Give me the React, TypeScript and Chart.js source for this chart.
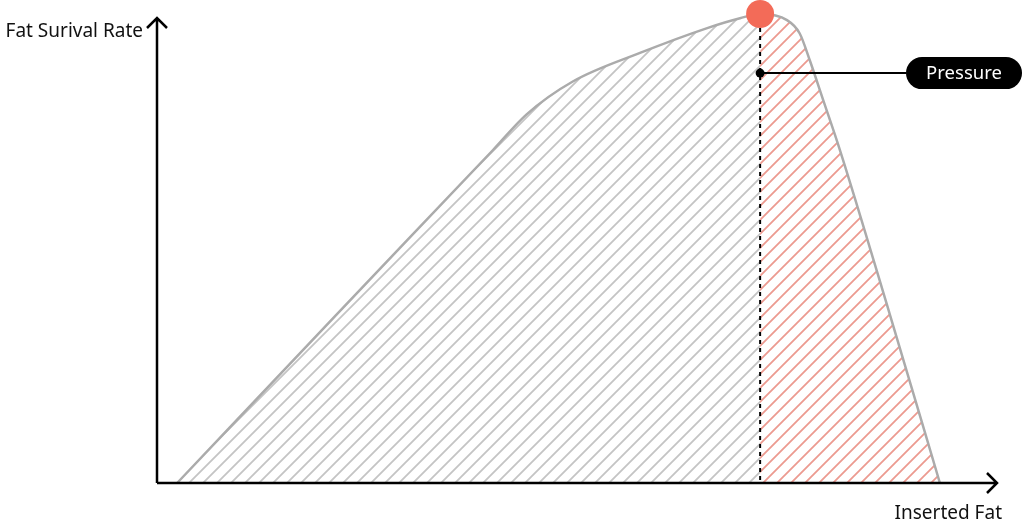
import React, { useEffect, useRef } from "react";
import { Chart, registerables } from "chart.js";

Chart.register(...registerables);

// curve (arbitrary 0-100 units on both axes)
const fatInserted = [2.4, 21.2, 40, 44, 49.5, 57.5, 65.5, 69.4, 71.8, 75, 76.5, 77.7, 79.3, 81.3, 87.3, 93.2];
const survivalRate = [0, 35.6, 71, 78.6, 85.6, 91.7, 97, 99.1, 100, 98.7, 95.9, 90.2, 81.7, 71, 35.6, 0];
const peakIndex = 8;
const pressureLevel = 87.4;

const xTitle = "Inserted Fat";
const yTitle = "Fat Surival Rate";
const pressureLabel = "Pressure";

const FONT = "'Noto Sans', sans-serif";

const hatch = (color: string) => {
  const size = 14;
  const c = document.createElement("canvas");
  c.width = size;
  c.height = size;
  const g = c.getContext("2d")!;
  g.strokeStyle = color;
  g.lineWidth = 1.8;
  g.beginPath();
  g.moveTo(-2, size + 2);
  g.lineTo(size + 2, -2);
  g.moveTo(-size / 2 - 2, size / 2 + 2);
  g.lineTo(size / 2 + 2, -size / 2 - 2);
  g.moveTo(size / 2 - 2, size * 1.5 + 2);
  g.lineTo(size * 1.5 + 2, size / 2 - 2);
  g.stroke();
  return g.createPattern(c, "repeat")!;
};

const overlay = {
  id: "overlay",
  afterDatasetsDraw(chart: any) {
    const { ctx, chartArea: a, scales } = chart;
    const x = scales.x;
    const y = scales.y;
    const px = x.getPixelForValue(fatInserted[peakIndex]);
    const py = y.getPixelForValue(survivalRate[peakIndex]);

    ctx.save();

    // dashed line under the peak
    ctx.strokeStyle = "#000";
    ctx.lineWidth = 2;
    ctx.setLineDash([4, 4]);
    ctx.beginPath();
    ctx.moveTo(px, py + 14);
    ctx.lineTo(px, a.bottom);
    ctx.stroke();
    ctx.setLineDash([]);

    // pressure callout
    const my = y.getPixelForValue(pressureLevel);
    const pillW = 116;
    const pillH = 32;
    const pillL = a.right + 25 - pillW;
    ctx.beginPath();
    ctx.moveTo(px, my);
    ctx.lineTo(pillL, my);
    ctx.stroke();
    ctx.fillStyle = "#000";
    ctx.beginPath();
    ctx.arc(px, my, 4.5, 0, Math.PI * 2);
    ctx.fill();
    ctx.beginPath();
    ctx.roundRect(pillL, my - pillH / 2, pillW, pillH, pillH / 2);
    ctx.fill();
    ctx.fillStyle = "#fff";
    ctx.font = `18.5px ${FONT}`;
    ctx.textAlign = "center";
    ctx.textBaseline = "middle";
    ctx.fillText(pressureLabel, pillL + pillW / 2, my + 1);

    // axes with arrows
    const top = a.top + 4;
    ctx.strokeStyle = "#000";
    ctx.lineWidth = 2.5;
    ctx.beginPath();
    ctx.moveTo(a.left, a.bottom);
    ctx.lineTo(a.left, top);
    ctx.moveTo(a.left - 10, top + 10);
    ctx.lineTo(a.left, top);
    ctx.lineTo(a.left + 10, top + 10);
    ctx.moveTo(a.left, a.bottom);
    ctx.lineTo(a.right, a.bottom);
    ctx.moveTo(a.right - 10, a.bottom - 10);
    ctx.lineTo(a.right, a.bottom);
    ctx.lineTo(a.right - 10, a.bottom + 10);
    ctx.stroke();

    ctx.fillStyle = "#111";
    ctx.font = `19px ${FONT}`;
    ctx.textAlign = "right";
    ctx.textBaseline = "alphabetic";
    ctx.fillText(yTitle, a.left - 14, 37);
    ctx.fillText(xTitle, a.right + 5, 519);

    ctx.restore();
  },
};

const App = () => {
  const canvasRef = useRef<HTMLCanvasElement>(null);
  const chartRef = useRef<Chart | null>(null);

  useEffect(() => {
    if (!canvasRef.current) return;

    chartRef.current?.destroy();

    const grey = hatch("#c4c4c4");
    const red = hatch("#ec9a90");

    chartRef.current = new Chart(canvasRef.current, {
      type: "line",
      data: {
        datasets: [
          {
            data: fatInserted.map((v, i) => ({ x: v, y: survivalRate[i] })),
            borderColor: "#ababab",
            borderWidth: 2.5,
            fill: "origin",
            backgroundColor: grey,
            segment: {
              backgroundColor: (c: any) => (c.p0DataIndex >= peakIndex ? red : grey),
            },
            cubicInterpolationMode: "monotone",
            pointRadius: (c: any) => (c.dataIndex === peakIndex ? 14 : 0),
            pointHoverRadius: (c: any) => (c.dataIndex === peakIndex ? 14 : 0),
            pointBackgroundColor: "#f36b58",
            pointBorderColor: "#f36b58",
            pointBorderWidth: 0,
            clip: false as any,
          },
        ],
      },
      options: {
        animation: false,
        responsive: true,
        maintainAspectRatio: false,
        events: [],
        layout: { padding: { left: 157, right: 27, top: 14, bottom: 38 } },
        scales: {
          x: { type: "linear", min: 0, max: 100, display: false },
          y: { type: "linear", min: 0, max: 100, display: false },
        },
        plugins: {
          legend: { display: false },
          tooltip: { enabled: false },
        },
      },
      plugins: [overlay],
    });

    return () => chartRef.current?.destroy();
  }, []);

  return (
    <div style={{ position: "fixed", left: 0, top: 0, width: 1024, height: 521, background: "#fff" }}>
      <canvas ref={canvasRef} />
    </div>
  );
};

export default App;
